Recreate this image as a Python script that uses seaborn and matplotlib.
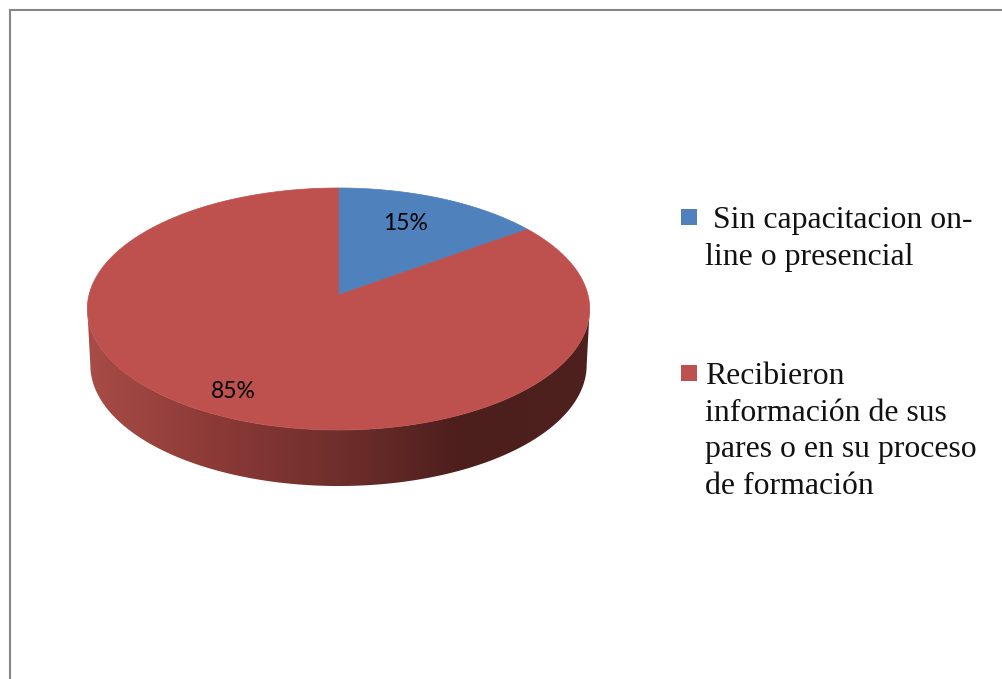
import numpy as np
import seaborn as sns
import matplotlib.pyplot as plt
from matplotlib.patches import Polygon, Rectangle

values = [15, 85]
pct_labels = ["15%", "85%"]
legend_lines = [
    [" Sin capacitacion on-", "line o presencial"],
    ["Recibieron", "información de sus", "pares o en su proceso", "de formación"],
]
colors = ["#4F81BD", "#BE504D"]
side_colors = ["#A84C47", "#8C3A37", "#6F2F2C", "#4C1E1C", "#4E201E"]

# pie geometry in pixels, the tilt is a projective squash of the unit disc
cx, cy = 338.5, 295
a, b, c = 119.4, 0.1157, 249.5
depth = 56


def project(x, y_down):
    w = 1 - b * y_down
    return np.column_stack([cx + c * x / w, cy + a * y_down / w])


sns.set_theme(style="white")
fig = plt.figure(figsize=(10.02, 6.79), dpi=100)
ax = fig.add_axes([0, 0, 1, 1])
wedges, _ = ax.pie(values, colors=colors, startangle=90, counterclock=False)
ax.set_aspect("auto")

# side of the pie
t = np.linspace(np.arcsin(b), np.pi - np.arcsin(b), 300)
rim = project(np.cos(t), np.sin(t))
bottom = rim.copy()
bottom[:, 0] = cx + (bottom[:, 0] - cx) * 0.988
bottom[:, 1] += depth
side = Polygon(np.vstack([rim, bottom[::-1]]), closed=True, fc="none", ec="none")
ax.add_patch(side)
grad = np.array(sns.blend_palette(side_colors, 256))[None, :, :]
img = ax.imshow(grad, extent=[rim[:, 0].min(), rim[:, 0].max(), 500, 300], aspect="auto", zorder=1)
img.set_clip_path(side)
ax.set_xlim(0, 1002)
ax.set_ylim(679, 0)

# top of the pie, same angles as the wedges the pie call made
for w, col in zip(wedges, colors):
    ang = np.radians(np.linspace(w.theta1, w.theta2, 200))
    x = np.r_[0, np.cos(ang)]
    y = np.r_[0, np.sin(ang)]
    w.set_visible(False)
    ax.add_patch(Polygon(project(x, -y), closed=True, fc=col, ec=col, lw=0.5, zorder=2))

ax.text(406, 224, pct_labels[0], family="Lato", fontsize=16.5, color="black",
        ha="center", va="center", zorder=3)
ax.text(233, 391, pct_labels[1], family="Lato", fontsize=16.5, color="black",
        ha="center", va="center", zorder=3)

# legend
swatch_y = [209, 365]
first_base = [228, 384]
for lines, col, sy, base in zip(legend_lines, colors, swatch_y, first_base):
    ax.add_patch(Rectangle((681, sy), 16, 16, fc=col, ec="none", zorder=3))
    for i, line in enumerate(lines):
        ax.text(705, base + i * 36.7, line, family="Liberation Serif", fontsize=22.9,
                color="#111111", ha="left", va="baseline", zorder=3)

# frame of the pasted picture, no right or bottom side
ax.plot([10.5, 10.5, 1002], [679, 10, 10], color="#868686", lw=1.5, zorder=4,
        solid_joinstyle="miter")

fig.savefig("out.png", dpi=100)
